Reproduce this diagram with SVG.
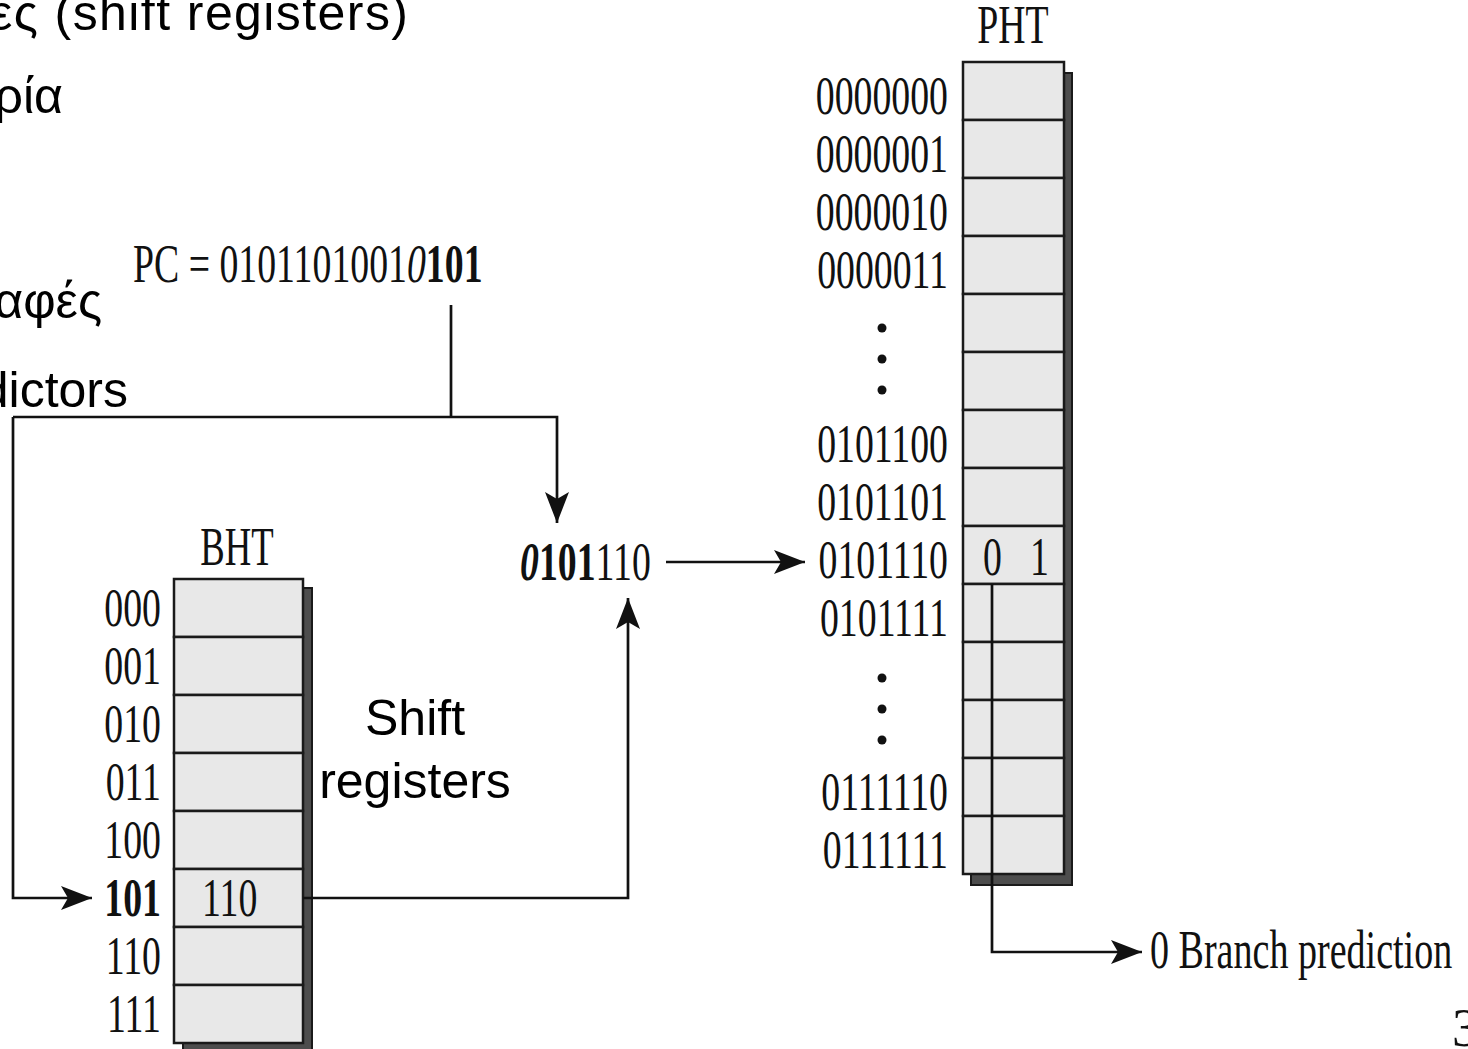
<svg xmlns="http://www.w3.org/2000/svg" width="1468" height="1049" viewBox="0 0 1468 1049">
<defs>
<style>
.t{font-family:"Liberation Serif","Times New Roman",serif;font-size:54px;fill:#111}
.b{font-weight:bold}
.i{font-style:italic}
.s{font-family:"Liberation Sans",Arial,sans-serif;font-size:50px;fill:#000}
.cell{fill:#e8e8e8;stroke:#1a1a1a;stroke-width:2.5}
.shadow{fill:#4d4d4d;stroke:#1a1a1a;stroke-width:2}
.wire{stroke:#111;stroke-width:2.7;fill:none}
</style>
<marker id="ah" markerUnits="userSpaceOnUse" markerWidth="34" markerHeight="26" refX="31" refY="12" orient="auto">
<path d="M0,0 L31,12 L0,24 L7,12 Z" fill="#111"/>
</marker>
</defs>
<rect width="1468" height="1049" fill="#fff"/>

<g id="slide-text">
<text class="s" x="408" y="30" text-anchor="end" font-size="52" textLength="418" lengthAdjust="spacing">ες (shift registers)</text>
<text class="s" x="63" y="113" text-anchor="end">ρία</text>
<text class="s" x="102" y="318" text-anchor="end">αφές</text>
<text class="s" x="128" y="407" text-anchor="end">dictors</text>
</g>

<g id="pc">
<text class="t" transform="translate(133,282) scale(0.7,1)">PC = 0101101001<tspan class="i">0</tspan><tspan class="b">101</tspan></text>
</g>

<g id="bht">
<text class="t" font-size="50" text-anchor="middle" transform="translate(237,565) scale(0.68,1)">BHT</text>
<rect class="shadow" x="183" y="588" width="129" height="470"/>
<rect class="cell" x="174" y="579" width="129" height="58"/>
<rect class="cell" x="174" y="637" width="129" height="58"/>
<rect class="cell" x="174" y="695" width="129" height="58"/>
<rect class="cell" x="174" y="753" width="129" height="58"/>
<rect class="cell" x="174" y="811" width="129" height="58"/>
<rect class="cell" x="174" y="869" width="129" height="58"/>
<rect class="cell" x="174" y="927" width="129" height="58"/>
<rect class="cell" x="174" y="985" width="129" height="58"/>
<g text-anchor="end">
<text class="t" transform="translate(161,626) scale(0.7,1)">000</text>
<text class="t" transform="translate(161,684) scale(0.7,1)">001</text>
<text class="t" transform="translate(161,742) scale(0.7,1)">010</text>
<text class="t" transform="translate(161,800) scale(0.7,1)">011</text>
<text class="t" transform="translate(161,858) scale(0.7,1)">100</text>
<text class="t b" transform="translate(161,916) scale(0.7,1)">101</text>
<text class="t" transform="translate(161,974) scale(0.7,1)">110</text>
<text class="t" transform="translate(161,1032) scale(0.7,1)">111</text>
</g>
<text class="t" transform="translate(202,916) scale(0.7,1)">110</text>
</g>

<g id="shift-label">
<text class="s" x="415" y="735" text-anchor="middle" font-size="46">Shift</text>
<text class="s" x="415" y="798" text-anchor="middle" font-size="46">registers</text>
</g>

<g id="index">
<text class="t" transform="translate(520,580) scale(0.7,1)"><tspan class="i b">0</tspan><tspan class="b">101</tspan>110</text>
</g>

<g id="pht">
<text class="t" font-size="50" text-anchor="middle" transform="translate(1013,43) scale(0.7,1)">PHT</text>
<rect class="shadow" x="971" y="73" width="101" height="812"/>
<rect class="cell" x="963" y="62" width="101" height="58"/>
<rect class="cell" x="963" y="120" width="101" height="58"/>
<rect class="cell" x="963" y="178" width="101" height="58"/>
<rect class="cell" x="963" y="236" width="101" height="58"/>
<rect class="cell" x="963" y="294" width="101" height="58"/>
<rect class="cell" x="963" y="352" width="101" height="58"/>
<rect class="cell" x="963" y="410" width="101" height="58"/>
<rect class="cell" x="963" y="468" width="101" height="58"/>
<rect class="cell" x="963" y="526" width="101" height="58"/>
<rect class="cell" x="963" y="584" width="101" height="58"/>
<rect class="cell" x="963" y="642" width="101" height="58"/>
<rect class="cell" x="963" y="700" width="101" height="58"/>
<rect class="cell" x="963" y="758" width="101" height="58"/>
<rect class="cell" x="963" y="816" width="101" height="58"/>
<g text-anchor="end">
<text class="t" transform="translate(948,114) scale(0.7,1)">0000000</text>
<text class="t" transform="translate(948,172) scale(0.7,1)">0000001</text>
<text class="t" transform="translate(948,230) scale(0.7,1)">0000010</text>
<text class="t" transform="translate(948,288) scale(0.7,1)">0000011</text>
<text class="t" transform="translate(948,462) scale(0.7,1)">0101100</text>
<text class="t" transform="translate(948,520) scale(0.7,1)">0101101</text>
<text class="t" transform="translate(948,578) scale(0.7,1)">0101110</text>
<text class="t" transform="translate(948,636) scale(0.7,1)">0101111</text>
<text class="t" transform="translate(948,810) scale(0.7,1)">0111110</text>
<text class="t" transform="translate(948,868) scale(0.7,1)">0111111</text>
</g>
<g fill="#111">
<circle cx="882" cy="328" r="4.5"/><circle cx="882" cy="359" r="4.5"/><circle cx="882" cy="390" r="4.5"/>
<circle cx="882" cy="678" r="4.5"/><circle cx="882" cy="709" r="4.5"/><circle cx="882" cy="740" r="4.5"/>
</g>
<text class="t" transform="translate(983,575) scale(0.7,1)">0</text>
<text class="t" transform="translate(1030,575) scale(0.7,1)">1</text>
</g>

<g id="prediction">
<text class="t" font-size="52" transform="translate(1150,968) scale(0.705,1)">0 Branch prediction</text>
</g>

<g id="page">
<text class="t" font-size="27" x="1452" y="1046">37</text>
</g>

<g id="connectors">
<path class="wire" d="M451,305 V417"/>
<path class="wire" d="M13,417 H557 V523" marker-end="url(#ah)"/>
<path class="wire" d="M13,417 V898 H92" marker-end="url(#ah)"/>
<path class="wire" d="M303,898 H628 V598" marker-end="url(#ah)"/>
<path class="wire" d="M666,562 H805" marker-end="url(#ah)"/>
<path class="wire" d="M992,584 V952 H1142" marker-end="url(#ah)"/>
</g>
</svg>
